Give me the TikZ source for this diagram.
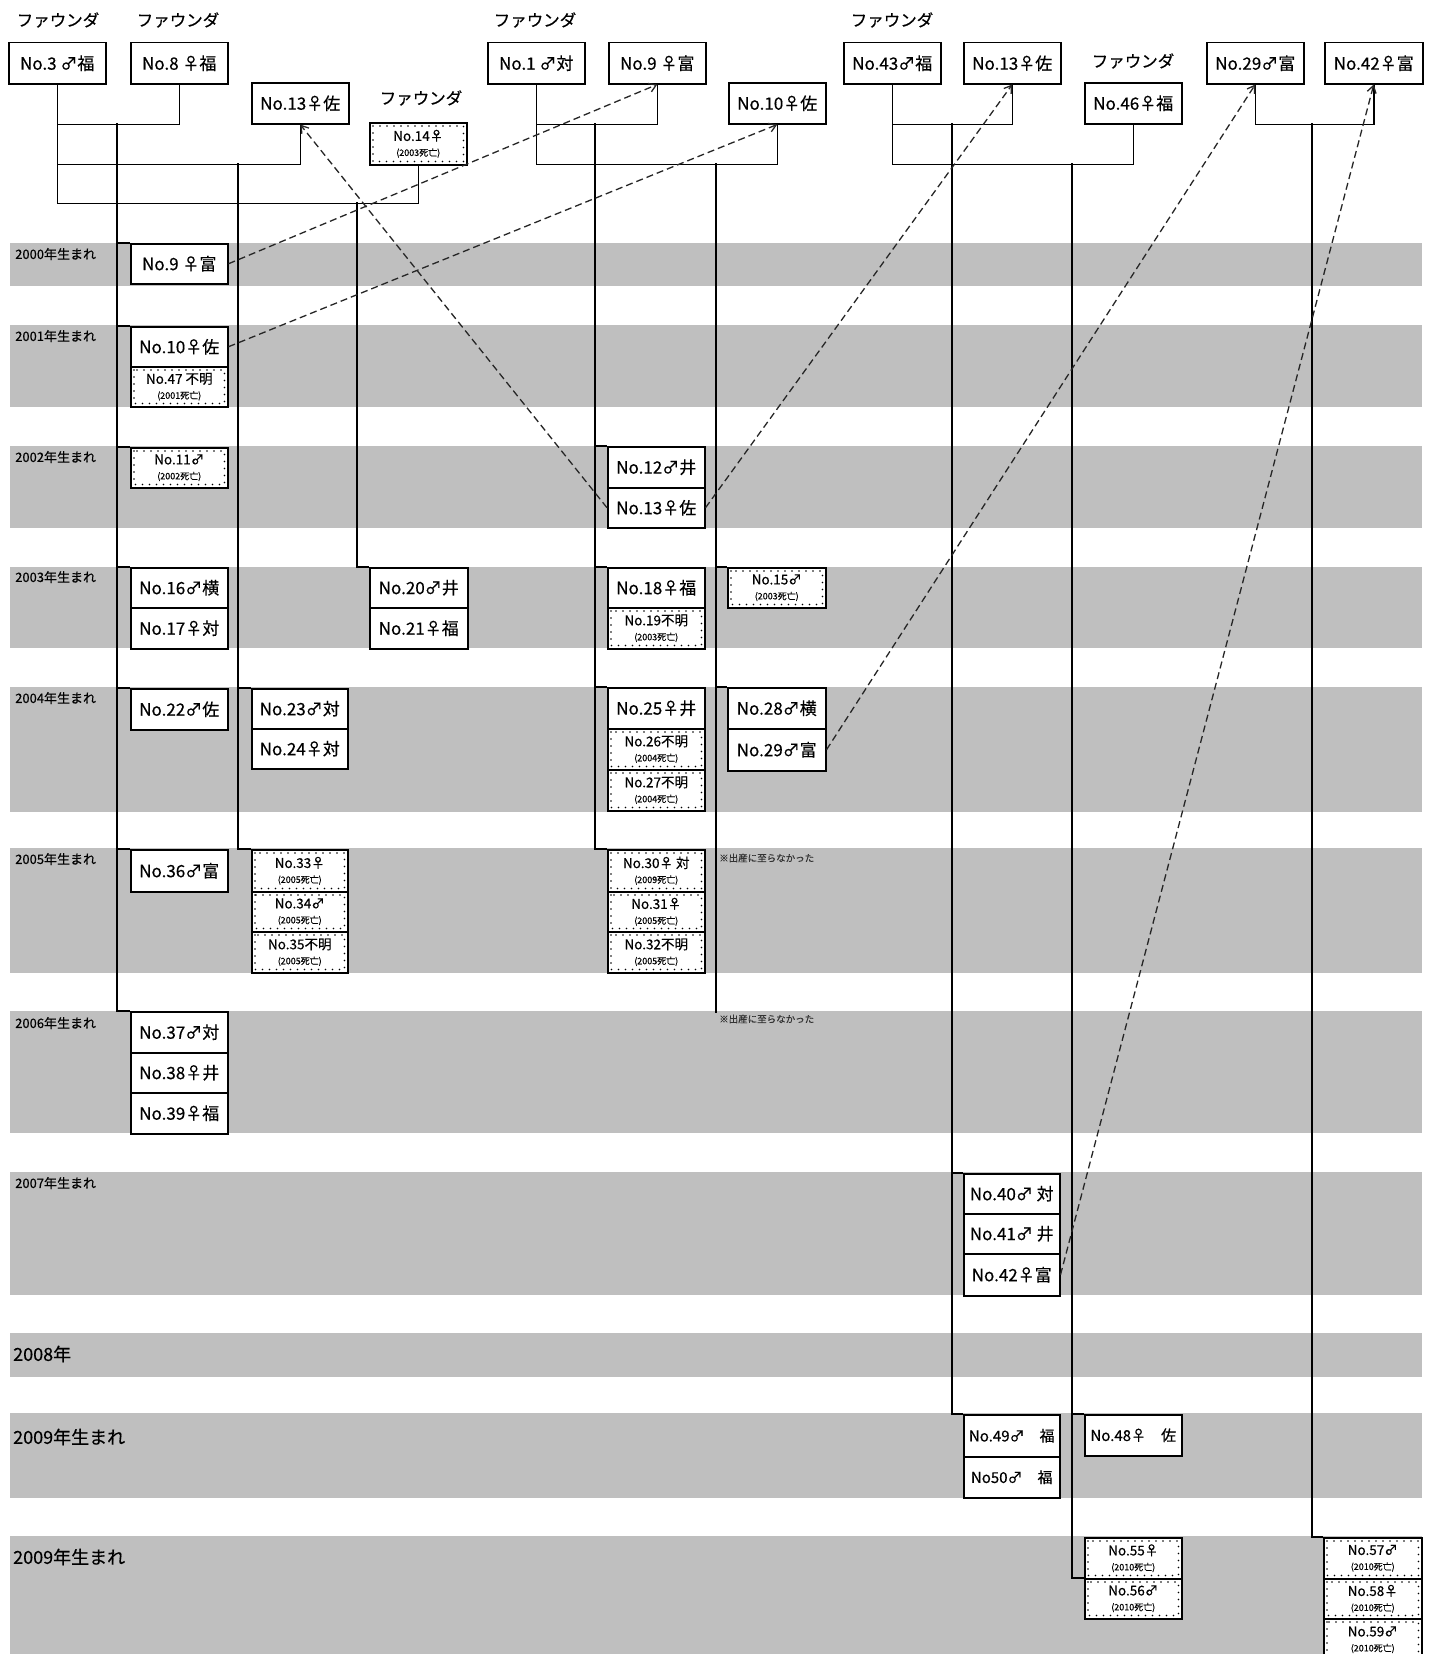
\documentclass[tikz,border=0pt]{standalone}
\usepackage{fontspec}
\setmainfont{Noto Sans CJK JP}[FakeBold=0.4]
\usetikzlibrary{arrows.meta,calc}
\newcommand\dtwo[2]{{\fontsize{13.5}{14}\selectfont #1}\\[-3pt]{\fontsize{9}{10}\selectfont #2}}
\begin{document}
\begin{tikzpicture}[x=1pt,y=-1pt,
 ln/.style={line width=1.5pt, black},
 box/.style={draw=black, line width=1.5pt, fill=white, anchor=north west, inner sep=0pt,
   minimum width=97pt, minimum height=41pt, align=center, font=\fontsize{17}{18}\selectfont},
 sm/.style={font=\fontsize{15}{16}\selectfont},
 dots/.style={line width=1.6pt, dash pattern=on 0pt off 7pt, line cap=round, black},
 lab/.style={font=\fontsize{16.5}{18}\selectfont, inner sep=0pt},
 yrs/.style={font=\fontsize{13}{14}\selectfont, anchor=west, inner sep=0pt},
 yrl/.style={font=\fontsize{18}{20}\selectfont, anchor=west, inner sep=0pt},
 note/.style={font=\fontsize{9.5}{10}\selectfont, anchor=west, inner sep=0pt, text=black!80},
 darr/.style={line width=1.3pt, dash pattern=on 7pt off 4pt, black!85, -{Straight Barb[length=7pt,width=9pt]}},
 band/.style={fill=black!25}
]
\fill[white] (0,0) rectangle (1434,1654);
\useasboundingbox (0,0) rectangle (1434,1654);
\clip (0,0) rectangle (1434,1654);

% bands
\fill[band] (10,243) rectangle (1422,286);
\fill[band] (10,325) rectangle (1422,407);
\fill[band] (10,446) rectangle (1422,528);
\fill[band] (10,567) rectangle (1422,648);
\fill[band] (10,687) rectangle (1422,812);
\fill[band] (10,848) rectangle (1422,973);
\fill[band] (10,1011) rectangle (1422,1133);
\fill[band] (10,1172) rectangle (1422,1295);
\fill[band] (10,1333) rectangle (1422,1377);
\fill[band] (10,1413) rectangle (1422,1498);
\fill[band] (10,1536) rectangle (1422,1660);

% year labels
\node[yrs] (y0) at (15,254) {2000年生まれ};
\node[yrs] (y1) at (15,336) {2001年生まれ};
\node[yrs] (y2) at (15,457) {2002年生まれ};
\node[yrs] (y3) at (15,577) {2003年生まれ};
\node[yrs] (y4) at (15,698) {2004年生まれ};
\node[yrs] (y5) at (15,859) {2005年生まれ};
\node[yrs] (y6) at (15,1023) {2006年生まれ};
\node[yrs] (y7) at (15,1183) {2007年生まれ};
\node[yrl] (y8) at (13,1354) {2008年};
\node[yrl] (y9) at (13,1437) {2009年生まれ};
\node[yrl] (y10) at (13,1557) {2009年生まれ};

% founder labels
\node[lab] (l1) at (58,20) {ファウンダ};
\node[lab] (l2) at (178,20) {ファウンダ};
\node[lab] (l3) at (421,98) {ファウンダ};
\node[lab] (l4) at (535,20) {ファウンダ};
\node[lab] (l5) at (892,20) {ファウンダ};
\node[lab] (l6) at (1133,61) {ファウンダ};

% top boxes
\node[box] (f3) at (8,42) {No.3 ♂福};
\node[box] (f8) at (130,42) {No.8 ♀福};
\node[box] (f13a) at (251,82) {No.13♀佐};
\node[box, minimum height=42pt] (f14) at (369,122) {\dtwo{No.14♀}{(2003死亡)}};
\node[box] (f1) at (487,42) {No.1 ♂対};
\node[box] (f9) at (608,42) {No.9 ♀富};
\node[box] (f10) at (728,82) {No.10♀佐};
\node[box] (f43) at (843,42) {No.43♂福};
\node[box] (f13b) at (963,42) {No.13♀佐};
\node[box] (f46) at (1084,82) {No.46♀福};
\node[box] (f29) at (1206,42) {No.29♂富};
\node[box, minimum width=98pt] (f42) at (1324,42) {No.42♀富};

% couple lines
\draw[ln] (f3.south) -- ++(0,40) -| (f8.south);
\draw[ln] (f3.south) -- ++(0,80) -| (f13a.south);
\draw[ln] (f3.south) -- ++(0,119) -| (f14.south);
\draw[ln] (f1.south) -- ++(0,40) -| (f9.south);
\draw[ln] (f1.south) -- ++(0,80) -| (f10.south);
\draw[ln] (f43.south) -- ++(0,40) -| (f13b.south);
\draw[ln] (f43.south) -- ++(0,80) -| (f46.south);
\draw[ln] (f29.south) -- ++(0,40) -| (f42.south);

\coordinate (cA) at (117,123);
\coordinate (cB) at (238,163);
\coordinate (cC) at (357,202);
\coordinate (cD) at (595,123);
\coordinate (cE) at (716,163);
\coordinate (cEend) at (716,1013);
\coordinate (cF) at (952,123);
\coordinate (cG) at (1072,163);
\coordinate (cH) at (1312,123);

% column A
\node[box, minimum height=40pt] (a9) at (130,243) {No.9 ♀富};
\node[box, minimum height=40pt] (a10) at (130,326) {No.10♀佐};
\node[box, minimum height=40pt] (a47) at (130,366) {\dtwo{No.47 不明}{(2001死亡)}};
\node[box, minimum height=40pt] (a11) at (130,447) {\dtwo{No.11♂}{(2002死亡)}};
\node[box, minimum height=40pt] (a16) at (130,567) {No.16♂横};
\node[box, minimum height=41pt] (a17) at (130,607) {No.17♀対};
\node[box, minimum height=41pt] (a22) at (130,688) {No.22♂佐};
\node[box, minimum height=42pt] (a36) at (130,849) {No.36♂富};
\node[box, minimum height=41pt] (a37) at (130,1011) {No.37♂対};
\node[box, minimum height=40pt] (a38) at (130,1052) {No.38♀井};
\node[box, minimum height=41pt] (a39) at (130,1092) {No.39♀福};
% column B
\node[box, minimum width=96pt, minimum height=40pt] (b23) at (251,688) {No.23♂対};
\node[box, minimum width=96pt, minimum height=40pt] (b24) at (251,728) {No.24♀対};
\node[box, minimum width=96pt, minimum height=42pt] (b33) at (251,849) {\dtwo{No.33♀}{(2005死亡)}};
\node[box, minimum width=96pt, minimum height=40pt] (b34) at (251,891) {\dtwo{No.34♂}{(2005死亡)}};
\node[box, minimum width=96pt, minimum height=41pt] (b35) at (251,931) {\dtwo{No.35不明}{(2005死亡)}};
% column C
\node[box, minimum width=98pt, minimum height=40pt] (c20) at (369,567) {No.20♂井};
\node[box, minimum width=98pt, minimum height=41pt] (c21) at (369,607) {No.21♀福};
% column D
\node[box, minimum height=41pt] (d12) at (607,446) {No.12♂井};
\node[box, minimum height=40pt] (d13) at (607,487) {No.13♀佐};
\node[box, minimum height=40pt] (d18) at (607,567) {No.18♀福};
\node[box, minimum height=41pt] (d19) at (607,607) {\dtwo{No.19不明}{(2003死亡)}};
\node[box, minimum height=41pt] (d25) at (607,687) {No.25♀井};
\node[box, minimum height=41pt] (d26) at (607,728) {\dtwo{No.26不明}{(2004死亡)}};
\node[box, minimum height=41pt] (d27) at (607,769) {\dtwo{No.27不明}{(2004死亡)}};
\node[box, minimum height=42pt] (d30) at (607,849) {\dtwo{No.30♀ 対}{(2009死亡)}};
\node[box, minimum height=40pt] (d31) at (607,891) {\dtwo{No.31♀}{(2005死亡)}};
\node[box, minimum height=41pt] (d32) at (607,931) {\dtwo{No.32不明}{(2005死亡)}};
% column E
\node[box, minimum width=98pt, minimum height=40pt] (e15) at (727,567) {\dtwo{No.15♂}{(2003死亡)}};
\node[box, minimum width=98pt, minimum height=41pt] (e28) at (727,687) {No.28♂横};
\node[box, minimum width=98pt, minimum height=42pt] (e29) at (727,728) {No.29♂富};
% column F
\node[box, minimum width=96pt, minimum height=40pt] (g40) at (963,1173) {No.40♂ 対};
\node[box, minimum width=96pt, minimum height=40pt] (g41) at (963,1213) {No.41♂ 井};
\node[box, minimum width=96pt, minimum height=42pt] (g42) at (963,1253) {No.42♀富};
\node[box, sm, minimum width=96pt, minimum height=42pt] (g49) at (963,1414) {No.49♂　福};
\node[box, sm, minimum width=96pt, minimum height=41pt] (g50) at (963,1456) {No50♂　福};
% column G
\node[box, sm, minimum height=41pt] (h48) at (1084,1414) {No.48♀　佐};
\node[box, minimum height=41pt] (h55) at (1084,1537) {\dtwo{No.55♀}{(2010死亡)}};
\node[box, minimum height=40pt] (h56) at (1084,1578) {\dtwo{No.56♂}{(2010死亡)}};
% column H
\node[box, minimum width=98pt, minimum height=41pt] (k57) at (1323,1537) {\dtwo{No.57♂}{(2010死亡)}};
\node[box, minimum width=98pt, minimum height=40pt] (k58) at (1323,1578) {\dtwo{No.58♀}{(2010死亡)}};
\node[box, minimum width=98pt, minimum height=42pt] (k59) at (1323,1618) {\dtwo{No.59♂}{(2010死亡)}};

% dotted insets
\foreach \n in {f14,a47,a11,b33,b34,b35,d19,d26,d27,d30,d31,d32,e15,h55,h56,k57,k58,k59}
  \draw[dots] ([shift={(4,4)}]\n.north west) rectangle ([shift={(-4,-4)}]\n.south east);

% child lines
\draw[ln] (cA) |- (a37.north west);
\foreach \n in {a9,a10,a11,a16,a22,a36} \draw[ln] (cA |- \n.north west) -- (\n.north west);
\draw[ln] (cB) |- (b33.north west);
\draw[ln] (cB |- b23.north west) -- (b23.north west);
\draw[ln] (cC) |- (c20.north west);
\draw[ln] (cD) |- (d30.north west);
\foreach \n in {d12,d18,d25} \draw[ln] (cD |- \n.north west) -- (\n.north west);
\draw[ln] (cE) -- (cEend);
\foreach \n in {e15,e28} \draw[ln] (cE |- \n.north west) -- (\n.north west);
\draw[ln] (cF) |- (g49.north west);
\draw[ln] (cF |- g40.north west) -- (g40.north west);
\draw[ln] (cG) |- (h56.north west);
\draw[ln] (cG |- h48.north west) -- (h48.north west);
\draw[ln] (cH) |- (k57.north west);

% notes
\node[note] (n1) at (719,858) {※出産に至らなかった};
\node[note] (n2) at (719,1019) {※出産に至らなかった};

% dashed arrows
\draw[darr] (a9.east) -- (f9.south);
\draw[darr] (a10.east) -- (f10.south);
\draw[darr] (d13.west) -- (f13a.south);
\draw[darr] (d13.east) -- (f13b.south);
\draw[darr] (e29.east) -- (f29.south);
\draw[darr] (g42.east) -- (f42.south);
\end{tikzpicture}
\end{document}
